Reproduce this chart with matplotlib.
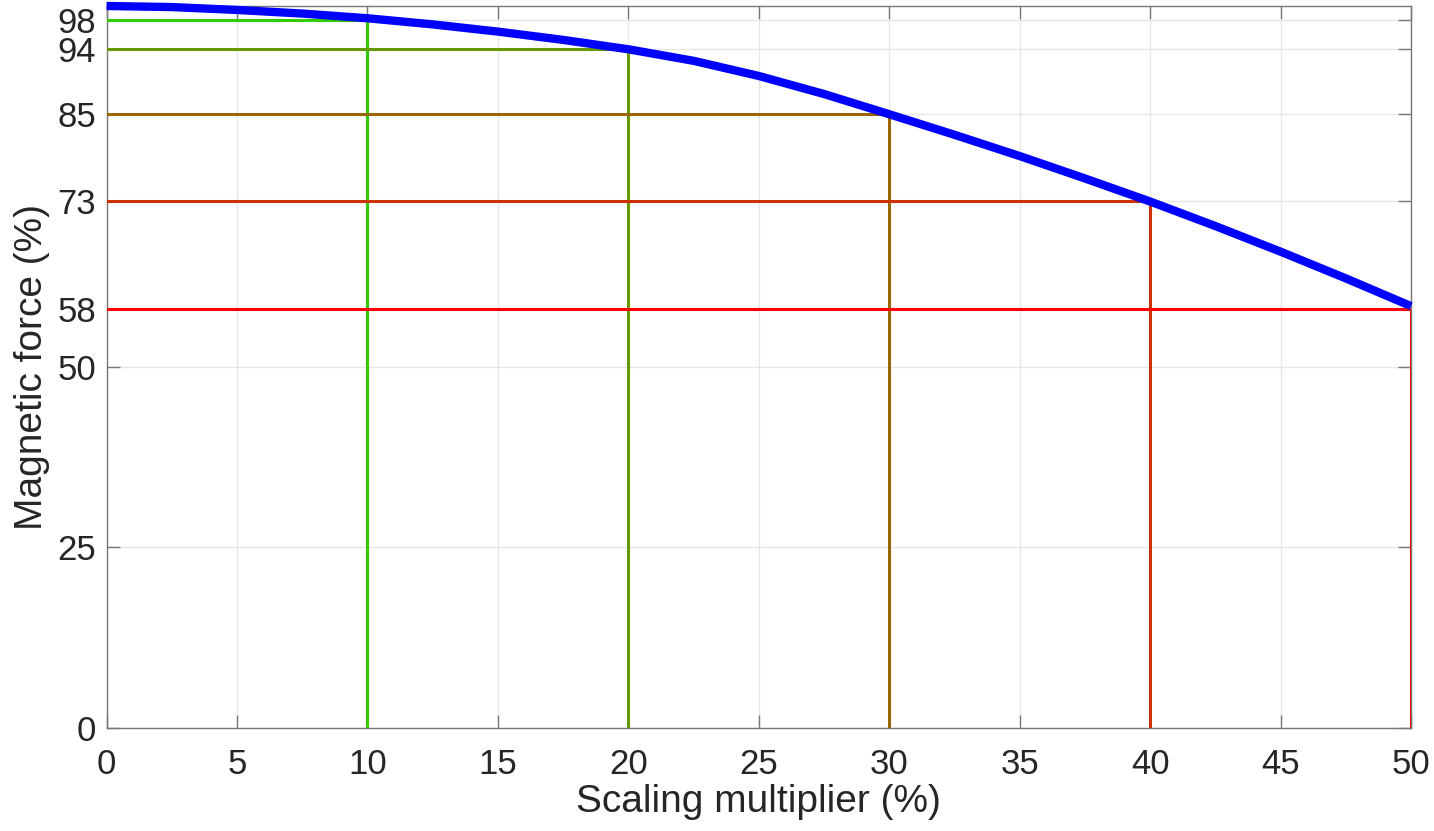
import numpy as np
import matplotlib.pyplot as plt

# Force curve
scale_pct = [0, 2.5, 5, 7.5, 10, 12.5, 15, 17.5, 20, 22.5, 25,
             27.5, 30, 32.5, 35, 37.5, 40, 42.5, 45, 47.5, 50]
force_pct = [100, 99.85, 99.45, 98.95, 98.3, 97.45, 96.45, 95.3, 94.0, 92.4, 90.3,
             87.8, 85.0, 82.15, 79.2, 76.1, 72.9, 69.5, 65.95, 62.25, 58.4]

# Marked operating points
mark_x = [10, 20, 30, 40, 50]
mark_y = [98, 94, 85, 73, 58]
mark_colors = ["#33cc00", "#669900", "#996600", "#cc3300", "#ff0000"]

y_ticks = [0, 25, 50, 58, 73, 85, 94, 98]
x_ticks = list(range(0, 55, 5))

plt.rcParams["font.family"] = ["Liberation Sans", "DejaVu Sans"]

fig = plt.figure(figsize=(14.34, 8.31), dpi=100)
ax = fig.add_axes([0.0743, 0.1245, 0.9097, 0.8683])

for x, y, c in zip(mark_x, mark_y, mark_colors):
    ax.plot([0, x, x], [y, y, 0], color=c, lw=2.2, solid_joinstyle="miter", zorder=3)

ax.plot(scale_pct, force_pct, color="#0000ff", lw=6, zorder=4, clip_on=False,
        solid_capstyle="butt", solid_joinstyle="round")

ax.set_xlim(0, 50)
ax.set_ylim(0, 100)
ax.set_xticks(x_ticks)
ax.set_yticks(y_ticks)
ax.tick_params(direction="in", length=9.5, width=1, color="#777777",
               labelsize=25, labelcolor="#262626", top=True, right=True)
ax.tick_params(axis="x", pad=15)
ax.tick_params(axis="y", pad=7.5)
ax.grid(True, color="#e6e6e6", lw=1)
ax.set_axisbelow(True)
for s in ax.spines.values():
    s.set_color("#777777")
    s.set_linewidth(1)

ax.set_xlabel("Scaling multiplier (%)", fontsize=28, color="#262626", labelpad=2)
ax.set_ylabel("Magnetic force (%)", fontsize=28, color="#262626", labelpad=5)

fig.savefig("out.png", dpi=100)
